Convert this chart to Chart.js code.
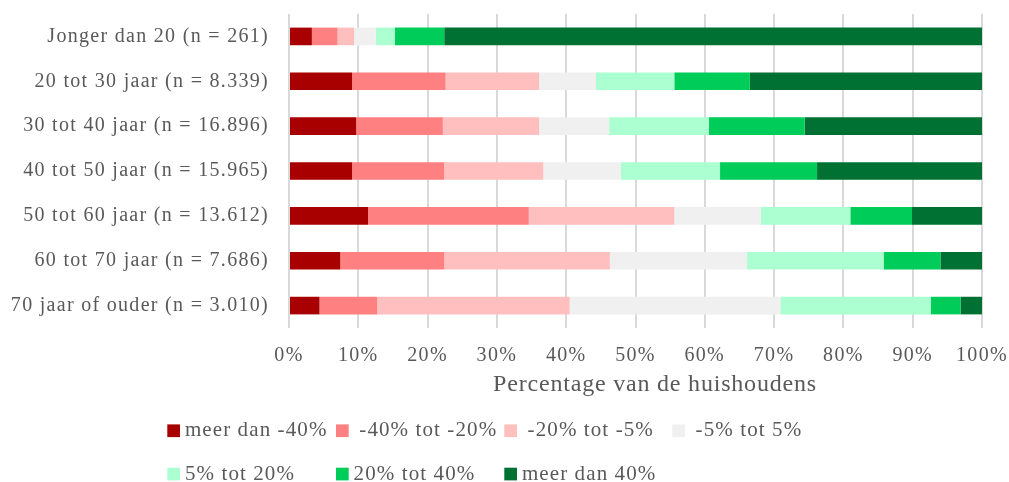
<!DOCTYPE html>
<html lang="nl">
<head>
    <meta charset="UTF-8">
    <title>Huishoudens per leeftijdsklasse</title>
    <script src="https://cdn.jsdelivr.net/npm/chart.js"></script>
    <style>
        html, body { margin: 0; padding: 0; background: #fff; }
        #wrap { width: 1009px; height: 482px; position: relative; }
    </style>
</head>
<body>
    <div id="wrap"><canvas id="chart"></canvas></div>

    <script>
        const categories = [
            'Jonger dan 20 (n = 261)',
            '20 tot 30 jaar (n = 8.339)',
            '30 tot 40 jaar (n = 16.896)',
            '40 tot 50 jaar (n = 15.965)',
            '50 tot 60 jaar (n = 13.612)',
            '60 tot 70 jaar (n = 7.686)',
            '70 jaar of ouder (n = 3.010)'
        ];

        const seriesNames = [
            'meer dan -40%', '-40% tot -20%', '-20% tot -5%', '-5% tot 5%',
            '5% tot 20%', '20% tot 40%', 'meer dan 40%'
        ];

        // percentage of households per category, one array per series
        const meerDanMin40 = [3.3, 9.1, 9.7, 9.1, 11.4, 7.4, 4.4];
        const min40tot20 = [3.7, 13.5, 12.5, 13.3, 23.2, 15.0, 8.3];
        const min20tot5 = [2.4, 13.5, 13.9, 14.3, 21.0, 23.9, 27.8];
        const min5tot5 = [3.1, 8.2, 10.1, 11.2, 12.5, 19.8, 30.4];
        const plus5tot20 = [2.8, 11.3, 14.4, 14.3, 12.9, 19.7, 21.7];
        const plus20tot40 = [7.1, 10.9, 13.8, 14.0, 8.9, 8.2, 4.3];
        const meerDan40 = [77.6, 33.5, 25.6, 23.8, 10.1, 6.0, 3.1];

        const seriesValues = [meerDanMin40, min40tot20, min20tot5, min5tot5, plus5tot20, plus20tot40, meerDan40];
        const colors = ['#A80000', '#FF8080', '#FFBFBF', '#F0F0F0', '#ABFFD0', '#00CC5A', '#007133'];

        const xTicks = [0, 10, 20, 30, 40, 50, 60, 70, 80, 90, 100];
        const xTitle = 'Percentage van de huishoudens';

        const font = "'Liberation Serif', 'DejaVu Serif', serif";
        const textColor = '#595959';

        // the original font is a wide garamond, so stretch the text a bit
        const spacing = {
            id: 'spacing',
            beforeDraw(chart) {
                chart.ctx.letterSpacing = '1.3px';
            }
        };

        // axis title + legend drawn by hand so they sit where the original has them
        const extras = {
            id: 'extras',
            afterDraw(chart) {
                const ctx = chart.ctx;
                ctx.save();
                ctx.fillStyle = textColor;
                ctx.textBaseline = 'middle';

                ctx.letterSpacing = '0.8px';
                ctx.font = '24px ' + font;
                ctx.textAlign = 'center';
                ctx.fillText(xTitle, 655, 385);

                ctx.letterSpacing = '1.1px';
                ctx.font = '21px ' + font;
                ctx.textAlign = 'left';
                const cols = [167.3, 336, 504.3, 672.3];
                const rows = [430.7, 474];
                chart.data.datasets.forEach((ds, i) => {
                    const x = cols[i % 4];
                    const y = rows[Math.floor(i / 4)];
                    ctx.fillStyle = ds.backgroundColor;
                    ctx.fillRect(x, y - 6.3, 12.7, 12.7);
                    ctx.fillStyle = textColor;
                    const gap = ds.label.startsWith('-') ? 23.3 : 17.6;
                    ctx.fillText(ds.label, x + gap, y);
                });
                ctx.restore();
            }
        };

        new Chart(document.getElementById('chart'), {
            type: 'bar',
            data: {
                labels: categories,
                datasets: seriesNames.map((name, i) => ({
                    label: name,
                    data: seriesValues[i],
                    backgroundColor: colors[i],
                    borderWidth: 0,
                    barPercentage: 0.393,
                    categoryPercentage: 1
                }))
            },
            options: {
                indexAxis: 'y',
                responsive: true,
                maintainAspectRatio: false,
                animation: false,
                layout: { padding: { top: 14, right: 27, bottom: 82, left: 0 } },
                plugins: {
                    legend: { display: false },
                    tooltip: { enabled: false }
                },
                scales: {
                    x: {
                        stacked: true,
                        min: 0,
                        max: 100,
                        afterBuildTicks: scale => {
                            scale.ticks = xTicks.map(v => ({ value: v }));
                        },
                        afterFit: scale => {
                            scale.height = 72;
                            scale.paddingLeft = 0;
                            scale.paddingRight = 0;
                        },
                        grid: { color: '#D9D9D9', lineWidth: 2, drawTicks: false },
                        border: { display: false },
                        ticks: {
                            padding: 16,
                            color: textColor,
                            font: { family: font, size: 20 },
                            callback: v => v + '%'
                        }
                    },
                    y: {
                        stacked: true,
                        grid: { display: false, drawTicks: false },
                        border: { display: false },
                        afterFit: scale => {
                            scale.width = 289;
                            scale.paddingTop = 0;
                            scale.paddingBottom = 0;
                        },
                        ticks: {
                            padding: 20,
                            color: textColor,
                            font: { family: font, size: 20 }
                        }
                    }
                }
            },
            plugins: [spacing, extras]
        });
    </script>
</body>
</html>
